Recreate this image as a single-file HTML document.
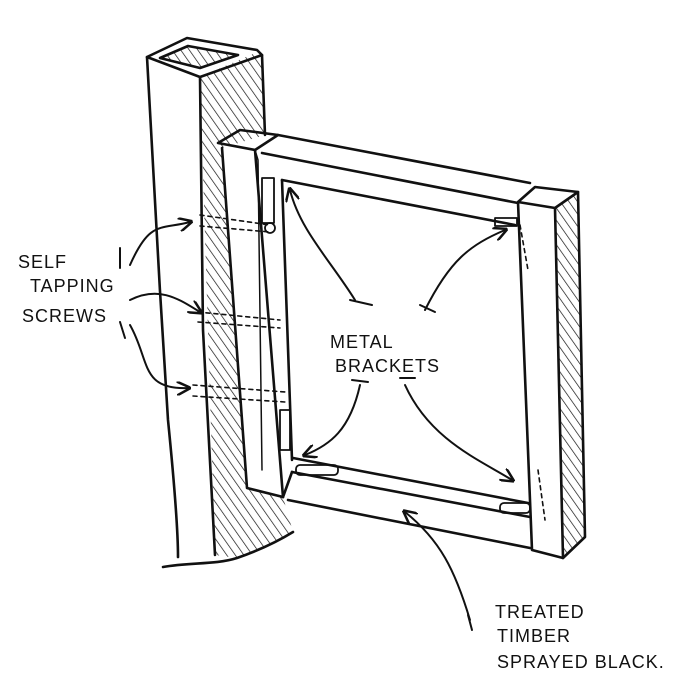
<!DOCTYPE html>
<html><head><meta charset="utf-8"><style>
html,body{margin:0;padding:0;background:#fff;}
svg{display:block}
text{font-family:"Liberation Sans",sans-serif;fill:#111;font-size:18px;letter-spacing:1px}
</style></head><body>
<svg width="700" height="694" viewBox="0 0 700 694" xmlns="http://www.w3.org/2000/svg">
<defs>
<pattern id="h" width="7" height="7" patternUnits="userSpaceOnUse" patternTransform="rotate(-35)">
<line x1="0" y1="0" x2="0" y2="7" stroke="#111" stroke-width="1.4"/>
</pattern>
<marker id="a" viewBox="0 0 10 10" refX="8" refY="5" markerWidth="7" markerHeight="7" orient="auto">
<path d="M0,0 L10,5 L0,10" fill="none" stroke="#111" stroke-width="1.8"/></marker>
</defs>
<g fill="none" stroke="#111" stroke-width="2.6" stroke-linecap="round" stroke-linejoin="round">
<!-- post -->
<path d="M200,77 L262,50 L265,135 L222,148 L247,488 L283,497 L293,532 C270,545 250,555 237,558 L215,555 Z" fill="url(#h)" stroke="none"/>
<path d="M147,57 L187,38 L257,50 L262,55 L200,77 Z"/>
<path d="M160,58 L188,46 L238,55 L200,68 Z" fill="url(#h)"/>
<path d="M147,57 C152,150 160,300 168,420 C174,480 178,530 178,557"/>
<path d="M163,567 C190,562 215,565 237,558 C260,550 280,540 293,532"/>
<path d="M200,77 L203,330 L215,555"/>
<path d="M262,55 L265,135"/>
<!-- left vertical -->
<path d="M218,143 L240,130 L278,135 L255,150 Z"/>
<path d="M222,148 L247,488 L283,497"/>
<path d="M255,150 L283,497"/>
<path d="M255,150 L258,160 L262,470" stroke-width="1.5"/>
<!-- top rail -->
<path d="M278,135 L530,183"/>
<path d="M262,153 L518,203"/>
<path d="M282,180 L515,225"/>
<!-- right vertical -->
<path d="M518,202 L535,187 L578,192 L555,208 Z"/>
<path d="M555,208 L578,192 L585,537 L563,558 Z" fill="url(#h)" stroke="none"/>
<path d="M518,202 L532,550 L563,558 L585,537 L578,192"/>
<path d="M555,208 L563,558"/>
<!-- inner left edge of opening -->
<path d="M282,180 L292,460"/>
<!-- bottom rail -->
<path d="M293,458 L528,503"/>
<path d="M292,472 L530,517"/>
<path d="M288,500 L530,548"/>
<path d="M283,497 L292,472"/>
<!-- brackets -->
<g stroke-width="1.8">
<rect x="262" y="178" width="12" height="45"/>
<circle cx="270" cy="228" r="5"/>
<rect x="280" y="410" width="10" height="40"/>
<rect x="296" y="465" width="42" height="10" rx="4"/>
<rect x="500" y="503" width="30" height="10" rx="4"/>
<rect x="495" y="218" width="22" height="8"/>
</g>
<!-- dashed screws -->
<g stroke-dasharray="4,4" stroke-width="1.6">
<path d="M200,215 L270,225"/><path d="M200,226 L270,232"/>
<path d="M198,312 L280,320"/><path d="M198,322 L280,328"/>
<path d="M193,385 L285,392"/><path d="M193,396 L285,402"/>
<path d="M520,225 L528,270"/><path d="M538,470 L545,520"/>
</g>
<!-- leader arrows -->
<g stroke-width="2" marker-end="url(#a)">
<path d="M130,265 C150,220 160,230 190,222"/>
<path d="M130,300 C160,285 180,300 200,312"/>
<path d="M130,325 C150,360 140,390 188,388"/>
<path d="M355,300 C330,260 300,230 290,190"/>
<path d="M425,310 C450,260 470,245 505,230"/>
<path d="M360,385 C350,430 330,445 305,455"/>
<path d="M405,385 C430,440 480,460 512,480"/>
<path d="M470,620 C455,570 440,540 405,512"/>
</g>
<path d="M120,248 L120,268" stroke-width="2"/>
<path d="M120,322 L125,338" stroke-width="2"/>
<path d="M350,300 L372,305" stroke-width="2"/>
<path d="M420,305 L435,312" stroke-width="2"/>
<path d="M352,380 L368,382" stroke-width="2"/>
<path d="M400,378 L415,378" stroke-width="2"/>
<path d="M468,615 L472,630" stroke-width="2"/>
</g>
<text x="18" y="268">SELF</text>
<text x="30" y="292">TAPPING</text>
<text x="22" y="322">SCREWS</text>
<text x="330" y="348">METAL</text>
<text x="335" y="372">BRACKETS</text>
<text x="495" y="618">TREATED</text>
<text x="497" y="642">TIMBER</text>
<text x="497" y="668">SPRAYED BLACK.</text>
</svg>
</body></html>
